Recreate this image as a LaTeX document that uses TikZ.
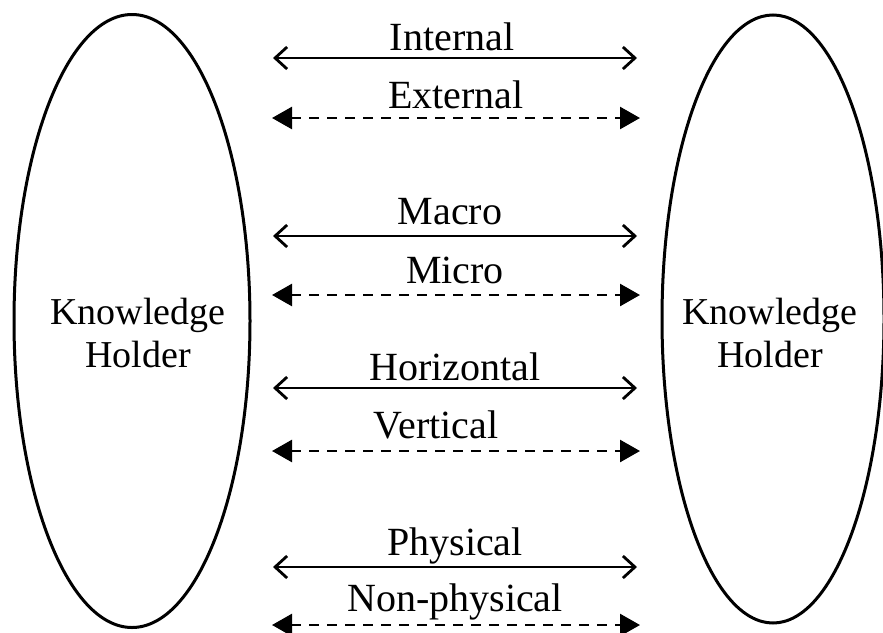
\documentclass[tikz,border=0pt]{standalone}
\usepackage{fontspec}
\setmainfont{Liberation Serif}
\usetikzlibrary{shapes.geometric,arrows.meta}
\begin{document}
\begin{tikzpicture}[x=0.5pt,y=-0.5pt,
  holder/.style={draw,line width=1.5pt,ellipse,inner sep=0pt},
  lbl/.style={font=\fontsize{20}{24}\selectfont,inner sep=0pt},
  holdtxt/.style={font=\fontsize{19}{21.5}\selectfont,align=center,inner sep=0pt},
  solidarr/.style={line width=1.3pt,{Straight Barb[length=6pt,width=11pt,line width=1.4pt]}-{Straight Barb[length=6pt,width=11pt,line width=1.4pt]}},
  dasharr/.style={line width=1.3pt,dash pattern=on 5pt off 4pt,{Triangle[length=10pt,width=11pt]}-{Triangle[length=10pt,width=11pt]}}
]
\useasboundingbox (0,0) rectangle (883,632);
\node[holder,minimum width=118pt,minimum height=306.5pt] (L) at (132,321) {};
\node[holder,minimum width=111pt,minimum height=304pt] (R) at (773,319) {};
\node[holdtxt] (Lt) at (138,333) {Knowledge\\Holder};
\node[holdtxt] (Rt) at (770,333) {Knowledge\\Holder};
% arrow endpoints
\foreach \n/\y/\xa/\xb in {a1/58/273/637, a2/118/272/640, a3/236/273/637, a4/295/272/640, a5/388/273/637, a6/451/272/640, a7/567/273/637, a8/625/272/640}{
  \coordinate (\n l) at (\xa,\y);
  \coordinate (\n r) at (\xb,\y);
}
\draw[solidarr] (a1l) -- (a1r);
\draw[dasharr] (a2l) -- (a2r);
\draw[solidarr] (a3l) -- (a3r);
\draw[dasharr] (a4l) -- (a4r);
\draw[solidarr] (a5l) -- (a5r);
\draw[dasharr] (a6l) -- (a6r);
\draw[solidarr] (a7l) -- (a7r);
\draw[dasharr] (a8l) -- (a8r);
\node[lbl] (t1) at (452,37) {Internal};
\node[lbl] (t2) at (456,95) {External};
\node[lbl] (t3) at (450,212) {Macro};
\node[lbl] (t4) at (455,270) {Micro};
\node[lbl] (t5) at (455,367) {Horizontal};
\node[lbl] (t6) at (436,425) {Vertical};
\node[lbl] (t7) at (455,546) {Physical};
\node[lbl] (t8) at (455,602) {Non-physical};
\end{tikzpicture}
\end{document}
